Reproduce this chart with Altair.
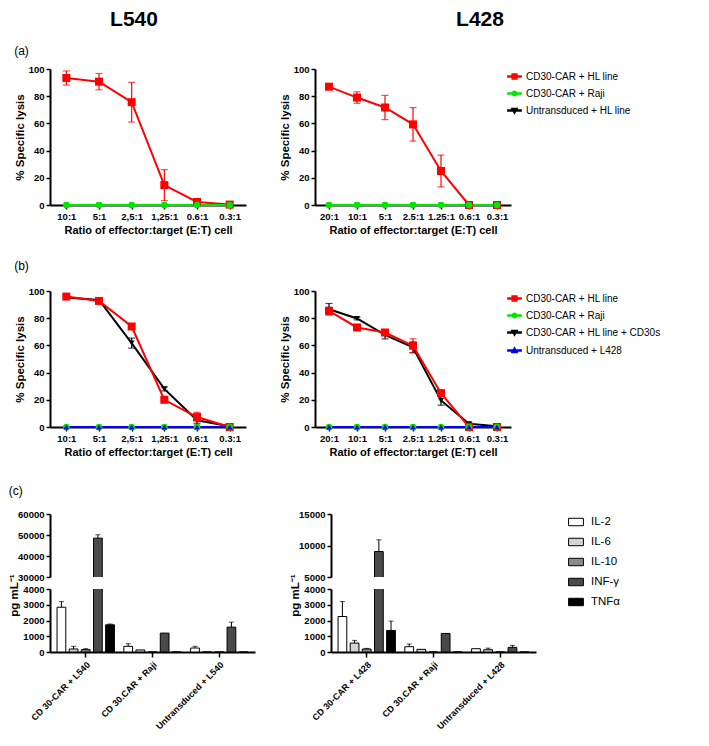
import altair as alt
import pandas as pd

FONT = "Liberation Sans, Arial, Helvetica, sans-serif"

# ---------------- data ----------------
titles = ["L540", "L428"]

ratios_L540 = ["10:1", "5:1", "2,5:1", "1,25:1", "0.6:1", "0.3:1"]
ratios_L428 = ["20:1", "10:1", "5:1", "2.5:1", "1.25:1", "0.6:1", "0.3:1"]

series_a = ["CD30-CAR + HL line", "CD30-CAR + Raji", "Untransduced + HL line"]
series_b = ["CD30-CAR + HL line", "CD30-CAR + Raji", "CD30-CAR + HL line + CD30s", "Untransduced + L428"]

# (a) L540
a540_car_hl = [93.4, 90.7, 75.6, 14.6, 2.2, 0.3]
a540_car_hl_sd = [5.2, 6.0, 14.6, 11.4, 0.8, 0.0]
a540_car_raji = [0, 0, 0, 0, 0, 0]
a540_car_raji_sd = [0, 0, 0, 0, 0, 0]
a540_untr_hl = [0, 0, 0, 0, 0, 0]
a540_untr_hl_sd = [0, 0, 0, 0, 0, 0]

# (a) L428
a428_car_hl = [87.0, 79.0, 71.7, 59.3, 25.0, 0.0, 0.0]
a428_car_hl_sd = [1.0, 4.2, 8.9, 12.3, 11.7, 0.0, 0.0]
a428_car_raji = [0, 0, 0, 0, 0, 0, 0]
a428_car_raji_sd = [0, 0, 0, 0, 0, 0, 0]
a428_untr_hl = [0, 0, 0, 0, 0, 0, 0]
a428_untr_hl_sd = [0, 0, 0, 0, 0, 0, 0]

# (b) L540
b540_car_hl = [95.9, 92.7, 73.9, 20.0, 7.3, 0.0]
b540_car_hl_sd = [1.0, 1.0, 2.0, 1.0, 3.5, 0.0]
b540_car_raji = [0, 0, 0, 0, 0, 0]
b540_car_raji_sd = [0, 0, 0, 0, 0, 0]
b540_car_hl_cd30s = [95.2, 93.4, 61.7, 28.0, 4.9, 0.5]
b540_car_hl_cd30s_sd = [1.0, 1.5, 3.7, 1.5, 2.5, 0.0]
b540_untr = [0, 0, 0, 0, 0, 0]
b540_untr_sd = [0, 0, 0, 0, 0, 0]

# (b) L428
b428_car_hl = [85.4, 73.2, 69.5, 59.8, 24.9, 0.0, 0.0]
b428_car_hl_sd = [2.0, 1.0, 1.5, 5.0, 2.0, 0.0, 0.0]
b428_car_raji = [0, 0, 0, 0, 0, 0, 0]
b428_car_raji_sd = [0, 0, 0, 0, 0, 0, 0]
b428_car_hl_cd30s = [86.6, 79.8, 67.8, 58.5, 19.5, 2.4, 0.5]
b428_car_hl_cd30s_sd = [4.2, 1.0, 3.0, 4.0, 3.5, 1.0, 0.0]
b428_untr = [0, 0, 0, 0, 0, 0, 0]
b428_untr_sd = [0, 0, 0, 0, 0, 0, 0]

# (c) cytokines
cytokines = ["IL-2", "IL-6", "IL-10", "INF-γ", "TNFα"]
groups_L540 = ["CD 30-CAR + L540", "CD 30.CAR + Raji", "Untransduced + L540"]
groups_L428 = ["CD 30-CAR + L428", "CD 30.CAR + Raji", "Untransduced + L428"]

c540_il2 = [2842, 358, 252]
c540_il2_sd = [360, 170, 110]
c540_il6 = [190, 130, 0]
c540_il6_sd = [170, 0, 0]
c540_il10 = [150, 0, 0]
c540_il10_sd = [60, 0, 0]
c540_inf = [48510, 1200, 1580]
c540_inf_sd = [1600, 0, 315]
c540_tnf = [1726, 0, 0]
c540_tnf_sd = [50, 0, 0]

c428_il2 = [2253, 337, 210]
c428_il2_sd = [950, 170, 0]
c428_il6 = [568, 168, 147]
c428_il6_sd = [170, 0, 100]
c428_il10 = [190, 0, 0]
c428_il10_sd = [40, 0, 0]
c428_inf = [9043, 1179, 295]
c428_inf_sd = [1860, 0, 125]
c428_tnf = [1368, 0, 0]
c428_tnf_sd = [590, 0, 0]

# ---------------- styles ----------------
colors_a = ["#ff0000", "#00e600", "#000000"]
shapes_a = ["square", "circle", "triangle-down"]
sizes_a = [64, 45, 30]
colors_b = ["#ff0000", "#00e600", "#000000", "#0000ff"]
shapes_b = ["square", "circle", "triangle-down", "triangle-up"]
sizes_b = [64, 45, 34, 34]
fills_c = ["#ffffff", "#d4d4d4", "#8a8a8a", "#4a4a4a", "#000000"]

# legend glyphs: a thin filled bar (the line) plus the marker
BAR = "M-1,-0.09H1V0.09H-1Z"
legend_paths = {
    "square": BAR + "M-0.36,-0.36H0.36V0.36H-0.36Z",
    "circle": BAR + "M0.34,0A0.34,0.34 0 1,1 -0.34,0A0.34,0.34 0 1,1 0.34,0Z",
    "triangle-down": BAR + "M-0.4,-0.3H0.4L0,0.4Z",
    "triangle-up": BAR + "M-0.4,0.3H0.4L0,-0.4Z",
}

LINE_W = 196
LINE_H = 136
BAR_W = 205
BAR_H = 63


def line_df(ratios, names, vals, sds, draw_order):
    rows = []
    for s, v, e in zip(names, vals, sds):
        for i, (r, vv, ee) in enumerate(zip(ratios, v, e)):
            rows.append(dict(series=s, ratio=r, idx=i, val=vv, sd=ee,
                             lo=vv - ee, hi=vv + ee, z=draw_order.index(s)))
    return pd.DataFrame(rows).sort_values(["z", "idx"]).reset_index(drop=True)


def line_legend():
    return alt.Legend(title=None, orient="right", offset=-4, labelFontSize=10,
                      labelLimit=0, labelFont=FONT, labelColor="black", rowPadding=4,
                      labelOffset=4, symbolSize=175, symbolOpacity=1)


def line_panel(df, ratios, domain, colors, shapes, sizes, draw_order):
    x = alt.X("ratio:N", sort=ratios, scale=alt.Scale(type="point", padding=0.5),
              axis=alt.Axis(title="Ratio of effector:target (E:T) cell", labelAngle=0,
                            labelPadding=2, titlePadding=4, titleFontSize=11))
    ysc = alt.Scale(domain=[0, 100])
    yax = alt.Axis(values=[0, 20, 40, 60, 80, 100], title="% Specific lysis",
                   titleFontSize=11.5, titlePadding=3, labelPadding=2)

    def Y(f):
        return alt.Y(f"{f}:Q", scale=ysc, axis=yax)

    lg = line_legend()
    color = alt.Color("series:N", scale=alt.Scale(domain=domain, range=colors), legend=lg)
    base = alt.Chart(df)
    errs = base.transform_filter("datum.sd > 0")
    layers = [
        errs.mark_rule(strokeWidth=1.2).encode(x=x, y=Y("lo"), y2="hi:Q", color=color),
        errs.mark_tick(thickness=1.2, size=7).encode(x=x, y=Y("hi"), color=color),
        errs.mark_tick(thickness=1.2, size=7).encode(x=x, y=Y("lo"), color=color),
        base.mark_line(strokeWidth=2).encode(x=x, y=Y("val"), color=color,
                                             order=alt.Order("idx:Q")),
    ]
    for s in draw_order:
        k = domain.index(s)
        layers.append(
            base.transform_filter(alt.datum.series == s)
            .mark_point(filled=True, opacity=1, shape=shapes[k], size=sizes[k])
            .encode(x=x, y=Y("val"), color=color)
        )
    # invisible proxy layer that carries the legend glyphs (line + marker)
    layers.append(
        base.mark_point(filled=True, opacity=0).encode(
            x=x, y=Y("val"), color=color,
            shape=alt.Shape("series:N", scale=alt.Scale(
                domain=domain, range=[legend_paths[s] for s in shapes]), legend=lg),
        )
    )
    return alt.layer(*layers).properties(width=LINE_W, height=LINE_H)


def bar_df(groups, vals, sds):
    rows = []
    for c, v, e in zip(cytokines, vals, sds):
        for g, vv, ee in zip(groups, v, e):
            rows.append(dict(group=g, cyt=c, val=vv, sd=ee, hi=vv + ee))
    return pd.DataFrame(rows)


def bar_panel(df, groups, upper_domain, upper_ticks, width):
    def X(axis):
        return alt.X("group:N", sort=groups,
                     scale=alt.Scale(paddingInner=0.09, paddingOuter=0.08), axis=axis)

    xo = alt.XOffset("cyt:N", sort=cytokines,
                     scale=alt.Scale(domain=cytokines, paddingInner=0.28, paddingOuter=0.14))
    fill = alt.Fill("cyt:N", scale=alt.Scale(domain=cytokines, range=fills_c),
                    legend=alt.Legend(title=None, orient="right", offset=32,
                                      symbolType="M-1,-0.5H1V0.5H-1Z", symbolSize=220,
                                      symbolStrokeColor="black", symbolStrokeWidth=1,
                                      rowPadding=6, labelFontSize=11.5, labelOffset=7))
    base = alt.Chart(df)

    def seg(domain, xaxis, yax):
        ysc = alt.Scale(domain=domain)
        x = X(xaxis)
        err = base.transform_filter("datum.sd > 0").mark_rule(
            color="black", strokeWidth=1, clip=True).encode(
            x=x, xOffset=xo, y=alt.Y("val:Q", scale=ysc, axis=yax), y2="hi:Q")
        bars = base.mark_bar(stroke="black", strokeWidth=1, clip=True).encode(
            x=x, xOffset=xo, y=alt.Y("val:Q", scale=ysc, axis=yax), fill=fill)
        cap = base.transform_filter("datum.sd > 0").mark_tick(
            color="black", thickness=1, size=5, clip=True).encode(
            x=x, xOffset=xo, y=alt.Y("hi:Q", scale=ysc, axis=yax))
        return alt.layer(err, bars, cap).properties(width=width, height=BAR_H)

    up_ax = alt.Axis(values=upper_ticks, title=None, labelPadding=2, format="d")
    low_ax = alt.Axis(values=[0, 1000, 2000, 3000, 4000], title="pg mL⁻¹", format="d",
                      titleFontSize=11.5, titlePadding=3, titleY=6, labelPadding=2)
    x_low_ax = alt.Axis(title=None, labelAngle=-45, labelFontSize=9, labelPadding=3, tickSize=5)
    upper = seg(upper_domain, None, up_ax)
    lower = seg([0, 4000], x_low_ax, low_ax)
    return alt.vconcat(upper, lower, spacing=12, bounds="flush")


# ---------------- build ----------------
order_a = ["CD30-CAR + HL line", "Untransduced + HL line", "CD30-CAR + Raji"]
order_b = ["CD30-CAR + HL line + CD30s", "CD30-CAR + HL line", "CD30-CAR + Raji", "Untransduced + L428"]

df_a540 = line_df(ratios_L540, series_a, [a540_car_hl, a540_car_raji, a540_untr_hl],
                  [a540_car_hl_sd, a540_car_raji_sd, a540_untr_hl_sd], order_a)
df_a428 = line_df(ratios_L428, series_a, [a428_car_hl, a428_car_raji, a428_untr_hl],
                  [a428_car_hl_sd, a428_car_raji_sd, a428_untr_hl_sd], order_a)
df_b540 = line_df(ratios_L540, series_b, [b540_car_hl, b540_car_raji, b540_car_hl_cd30s, b540_untr],
                  [b540_car_hl_sd, b540_car_raji_sd, b540_car_hl_cd30s_sd, b540_untr_sd], order_b)
df_b428 = line_df(ratios_L428, series_b, [b428_car_hl, b428_car_raji, b428_car_hl_cd30s, b428_untr],
                  [b428_car_hl_sd, b428_car_raji_sd, b428_car_hl_cd30s_sd, b428_untr_sd], order_b)

df_c540 = bar_df(groups_L540, [c540_il2, c540_il6, c540_il10, c540_inf, c540_tnf],
                 [c540_il2_sd, c540_il6_sd, c540_il10_sd, c540_inf_sd, c540_tnf_sd])
df_c428 = bar_df(groups_L428, [c428_il2, c428_il6, c428_il10, c428_inf, c428_tnf],
                 [c428_il2_sd, c428_il6_sd, c428_il10_sd, c428_inf_sd, c428_tnf_sd])

tdf = pd.DataFrame({"t": titles})


def header_cell(name, width, dx):
    return alt.Chart(tdf).transform_filter(alt.datum.t == name).mark_text(opacity=0).encode(
        text="t:N"
    ).properties(width=width, height=1,
                 title=alt.Title(name, fontSize=21, fontWeight="bold", font=FONT,
                                 anchor="middle", offset=0, dx=dx, color="black"))


header = alt.hconcat(header_cell(titles[0], 168, 0), header_cell(titles[1], 200, 162), spacing=0)


def ptitle(t, off):
    return alt.Title(t, anchor="start", offset=off, fontSize=12, fontWeight="normal",
                     font=FONT, color="black")


row_a = alt.hconcat(
    line_panel(df_a540, ratios_L540, series_a, colors_a, shapes_a, sizes_a, order_a),
    line_panel(df_a428, ratios_L428, series_a, colors_a, shapes_a, sizes_a, order_a),
    spacing=33, title=ptitle("(a)", 6),
)

row_b = alt.hconcat(
    line_panel(df_b540, ratios_L540, series_b, colors_b, shapes_b, sizes_b, order_b),
    line_panel(df_b428, ratios_L428, series_b, colors_b, shapes_b, sizes_b, order_b),
    spacing=33, title=ptitle("(b)", 13),
)

row_c = alt.hconcat(
    bar_panel(df_c540, groups_L540, [30000, 60000], [30000, 40000, 50000, 60000], BAR_W),
    bar_panel(df_c428, groups_L428, [5000, 15000], [5000, 10000, 15000], BAR_W),
    spacing=34, title=ptitle("(c)", 11),
)

IND = dict(color="independent", fill="independent", shape="independent")

rows_ab = alt.vconcat(row_a, row_b, spacing=24).resolve_scale(**IND)
body = alt.vconcat(rows_ab, row_c, spacing=27).resolve_scale(**IND)

chart = alt.vconcat(header, body, spacing=4).resolve_scale(**IND).properties(
    padding=0
).configure_view(stroke=None).configure_axis(
    labelFont=FONT, titleFont=FONT, labelFontWeight="bold", titleFontWeight="bold",
    labelColor="black", titleColor="black", domainColor="black", tickColor="black",
    domainWidth=2, tickWidth=1.5, tickSize=4, grid=False, labelFontSize=9.5,
).configure_legend(labelFont=FONT, labelColor="black")

chart.save("out.html", embed_options={"renderer": "svg", "actions": False})
